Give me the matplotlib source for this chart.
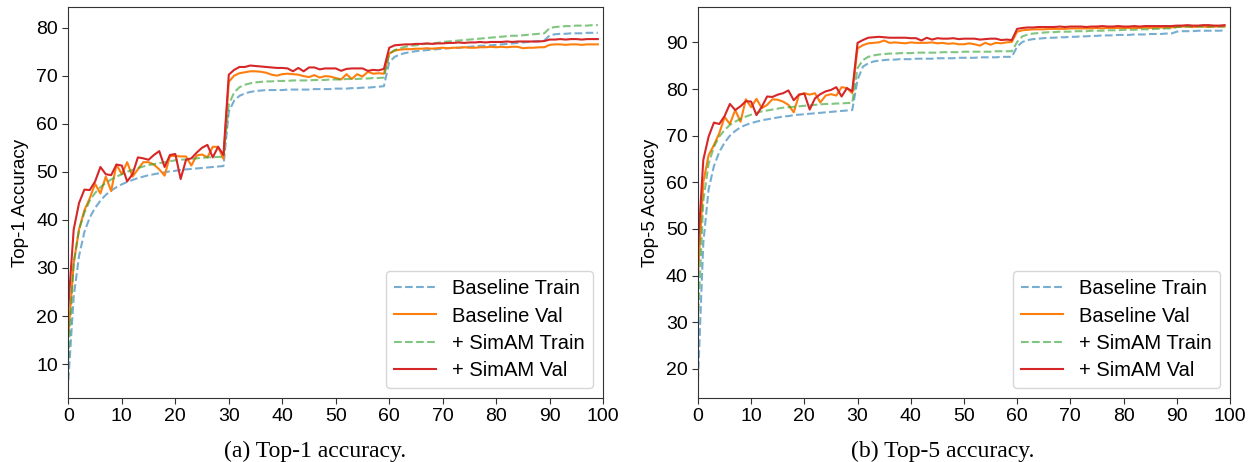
import matplotlib
matplotlib.use("Agg")
import matplotlib.pyplot as plt

plt.rcParams['font.family'] = ['Liberation Sans', 'DejaVu Sans']

epochs = list(range(100))

# top-1 accuracy per epoch (lr drops at 30 / 60 / 90)
top1_base_train = [
    6.7, 24.0, 32.5, 37.5, 40.5, 42.5, 44.0, 45.2, 46.1, 46.8, 47.4, 47.9, 48.3, 48.7, 49.0,
    49.3, 49.5, 49.7, 49.9, 50.1, 50.2, 50.4, 50.5, 50.6, 50.7, 50.8, 50.9, 51.0, 51.1, 51.2,
    62.5, 64.8, 65.8, 66.3, 66.6, 66.8, 66.9, 67.0, 67.0, 67.0, 67.0, 67.1, 67.1, 67.1, 67.1,
    67.1, 67.2, 67.2, 67.2, 67.2, 67.3, 67.3, 67.3, 67.4, 67.4, 67.5, 67.5, 67.6, 67.7, 67.8,
    72.8, 73.9, 74.4, 74.7, 74.9, 75.1, 75.2, 75.3, 75.4, 75.5, 75.6, 75.7, 75.8, 75.8, 75.9,
    76.0, 76.1, 76.2, 76.2, 76.3, 76.4, 76.5, 76.6, 76.7, 76.8, 76.9, 77.0, 77.1, 77.2, 77.3,
    78.4, 78.6, 78.7, 78.7, 78.8, 78.8, 78.8, 78.9, 78.9, 78.9]
top1_base_val = [
    16.0, 31.0, 38.0, 42.0, 44.5, 47.5, 45.5, 49.0, 46.0, 51.5, 49.5, 52.0, 49.0, 50.5, 52.0,
    52.0, 51.5, 50.5, 49.2, 53.3, 53.3, 53.2, 53.2, 51.3, 53.4, 53.6, 53.0, 55.2, 55.2, 52.7,
    68.7, 70.0, 70.5, 70.7, 70.9, 70.9, 70.8, 70.6, 70.2, 70.0, 70.3, 70.4, 70.3, 70.2, 69.9,
    69.7, 70.1, 69.6, 69.9, 69.8, 69.5, 69.2, 70.3, 69.3, 70.3, 69.8, 70.8, 70.4, 70.5, 70.4,
    74.6, 75.2, 75.4, 75.5, 75.5, 75.6, 75.6, 75.7, 75.6, 75.7, 75.8, 75.7, 75.8, 75.8, 75.9,
    75.8, 75.8, 75.9, 75.9, 76.0, 75.9, 76.0, 75.9, 76.0, 76.0, 75.7, 75.8, 75.8, 75.9, 75.9,
    76.4, 76.5, 76.5, 76.4, 76.5, 76.5, 76.4, 76.5, 76.5, 76.5]
top1_simam_train = [
    11.0, 31.0, 38.0, 41.5, 44.0, 45.6, 46.8, 47.7, 48.4, 49.0, 49.5, 50.0, 50.4, 50.8, 51.1,
    51.4, 51.6, 51.8, 52.0, 52.2, 52.4, 52.5, 52.6, 52.7, 52.8, 52.9, 53.0, 53.0, 53.1, 53.1,
    64.0, 66.5, 67.6, 68.1, 68.4, 68.6, 68.7, 68.8, 68.8, 68.9, 68.9, 68.9, 69.0, 69.0, 69.0,
    69.0, 69.1, 69.1, 69.1, 69.2, 69.2, 69.2, 69.3, 69.3, 69.3, 69.4, 69.4, 69.5, 69.5, 69.6,
    74.5, 75.3, 75.7, 76.0, 76.2, 76.3, 76.5, 76.6, 76.7, 76.8, 77.0, 77.1, 77.2, 77.3, 77.4,
    77.5, 77.6, 77.7, 77.8, 77.9, 78.0, 78.1, 78.2, 78.3, 78.3, 78.4, 78.5, 78.6, 78.7, 78.8,
    79.9, 80.1, 80.2, 80.3, 80.3, 80.4, 80.4, 80.4, 80.5, 80.5]
top1_simam_val = [
    22.0, 38.0, 43.5, 46.3, 46.2, 48.0, 51.0, 49.5, 49.3, 51.5, 51.3, 48.0, 49.5, 53.0, 52.8,
    52.5, 53.5, 54.3, 51.0, 53.5, 53.7, 48.5, 52.5, 52.8, 54.0, 55.0, 55.6, 53.0, 55.2, 53.5,
    70.2, 71.2, 71.8, 71.8, 72.1, 72.0, 71.9, 71.8, 71.7, 71.6, 71.6, 71.5, 70.9, 71.6, 70.9,
    71.7, 71.7, 71.3, 71.5, 71.5, 71.5, 71.0, 71.4, 71.5, 71.5, 71.5, 71.0, 71.2, 71.1, 71.4,
    75.8, 76.3, 76.4, 76.5, 76.5, 76.6, 76.6, 76.7, 76.6, 76.7, 76.7, 76.8, 76.8, 76.9, 76.8,
    76.9, 76.9, 77.0, 76.9, 77.0, 77.0, 77.0, 77.1, 77.0, 77.1, 77.1, 77.1, 77.1, 77.1, 77.2,
    77.5, 77.5, 77.6, 77.5, 77.6, 77.6, 77.5, 77.6, 77.6, 77.6]

# top-5 accuracy per epoch
top5_base_train = [
    17.6, 47.0, 58.5, 63.5, 66.5, 68.5, 70.0, 71.0, 71.8, 72.3, 72.7, 73.0, 73.3, 73.5, 73.7,
    73.9, 74.1, 74.2, 74.4, 74.5, 74.6, 74.7, 74.8, 74.9, 75.0, 75.1, 75.2, 75.3, 75.4, 75.5,
    82.0, 84.8, 85.5, 85.9, 86.1, 86.2, 86.3, 86.3, 86.4, 86.4, 86.4, 86.5, 86.5, 86.5, 86.5,
    86.6, 86.6, 86.6, 86.6, 86.7, 86.7, 86.7, 86.7, 86.8, 86.8, 86.8, 86.8, 86.9, 86.9, 86.9,
    89.1, 90.1, 90.5, 90.7, 90.8, 90.9, 91.0, 91.0, 91.1, 91.1, 91.2, 91.2, 91.3, 91.3, 91.4,
    91.4, 91.5, 91.5, 91.5, 91.6, 91.6, 91.6, 91.7, 91.7, 91.7, 91.8, 91.8, 91.8, 91.9, 91.9,
    92.3, 92.4, 92.4, 92.4, 92.5, 92.5, 92.5, 92.5, 92.5, 92.6]
top5_base_val = [
    40.0, 60.0, 65.8, 68.0, 70.5, 74.0, 72.5, 75.5, 73.0, 77.8, 76.1, 77.9, 75.9, 76.6, 77.8,
    77.7, 77.3, 76.6, 75.0, 78.8, 79.1, 78.8, 79.1, 77.1, 78.6, 78.9, 78.6, 80.4, 80.2, 79.1,
    88.7, 89.4, 89.8, 89.9, 90.0, 90.4, 89.9, 90.0, 89.9, 89.8, 90.0, 89.9, 89.9, 89.9, 90.0,
    89.8, 89.9, 89.7, 89.8, 89.6, 89.6, 89.8, 89.6, 89.3, 89.9, 89.5, 89.9, 89.8, 90.0, 90.1,
    92.3, 92.6, 92.7, 92.8, 92.8, 92.8, 92.9, 92.9, 92.9, 92.9, 93.0, 93.0, 93.0, 93.0, 93.0,
    93.1, 93.0, 93.1, 93.1, 93.1, 93.1, 93.1, 93.1, 93.1, 93.2, 93.1, 93.2, 93.2, 93.2, 93.2,
    93.3, 93.4, 93.4, 93.3, 93.4, 93.4, 93.3, 93.4, 93.4, 93.4]
top5_simam_train = [
    30.0, 56.0, 64.0, 67.6, 69.8, 71.2, 72.3, 73.0, 73.6, 74.1, 74.5, 74.9, 75.2, 75.4, 75.6,
    75.8, 76.0, 76.1, 76.2, 76.3, 76.4, 76.5, 76.6, 76.7, 76.8, 76.8, 76.9, 76.9, 77.0, 77.0,
    84.5, 86.2, 86.9, 87.2, 87.4, 87.5, 87.6, 87.6, 87.7, 87.7, 87.7, 87.8, 87.8, 87.8, 87.8,
    87.8, 87.9, 87.9, 87.9, 87.9, 88.0, 88.0, 88.0, 88.0, 88.0, 88.0, 88.1, 88.1, 88.1, 88.1,
    90.1, 91.3, 91.7, 91.9, 92.0, 92.1, 92.2, 92.2, 92.3, 92.3, 92.3, 92.4, 92.4, 92.4, 92.5,
    92.5, 92.5, 92.6, 92.6, 92.6, 92.7, 92.7, 92.7, 92.8, 92.8, 92.8, 92.9, 92.9, 93.0, 93.0,
    93.3, 93.3, 93.4, 93.4, 93.4, 93.4, 93.4, 93.4, 93.4, 93.4]
top5_simam_val = [
    46.0, 64.8, 69.8, 72.8, 72.5, 74.2, 76.8, 75.5, 76.3, 77.4, 77.3, 74.4, 76.2, 78.4, 78.3,
    78.8, 79.1, 79.7, 77.6, 78.8, 79.0, 75.6, 78.0, 78.9, 79.5, 79.8, 80.4, 78.4, 80.2, 79.5,
    89.9, 90.5, 91.0, 91.1, 91.2, 91.1, 91.0, 91.0, 91.0, 91.0, 90.9, 90.9, 90.4, 91.0, 90.6,
    90.9, 90.8, 90.8, 90.9, 90.7, 90.8, 90.8, 90.8, 90.6, 90.7, 90.8, 90.8, 90.5, 90.6, 90.5,
    92.9, 93.1, 93.2, 93.2, 93.3, 93.3, 93.3, 93.3, 93.4, 93.3, 93.4, 93.4, 93.4, 93.3, 93.4,
    93.4, 93.5, 93.4, 93.4, 93.5, 93.4, 93.4, 93.5, 93.4, 93.5, 93.5, 93.5, 93.5, 93.5, 93.5,
    93.6, 93.6, 93.7, 93.6, 93.6, 93.7, 93.7, 93.6, 93.6, 93.7]

labels = ['Baseline Train', 'Baseline Val', '+ SimAM Train', '+ SimAM Val']
colors = ['#1f77b4', '#ff7f0e', '#2ca02c', '#d62728']
styles = ['--', '-', '--', '-']
alphas = [0.6, 1.0, 0.6, 1.0]

panels = [
    ('Top-1 Accuracy', '(a) Top-1 accuracy.',
     [top1_base_train, top1_base_val, top1_simam_train, top1_simam_val]),
    ('Top-5 Accuracy', '(b) Top-5 accuracy.',
     [top5_base_train, top5_base_val, top5_simam_train, top5_simam_val]),
]

fig = plt.figure(figsize=(12.54, 4.62), dpi=100)
rects = [[0.0545, 0.139, 0.4265, 0.845], [0.5566, 0.139, 0.4242, 0.845]]

for rect, (ylab, caption, series) in zip(rects, panels):
    ax = fig.add_axes(rect)
    for ys, lab, c, ls, a in zip(series, labels, colors, styles, alphas):
        ax.plot(epochs, ys, ls, color=c, alpha=a, lw=1.5, label=lab)
    ax.set_xlim(0, 100)
    ax.set_xticks(range(0, 101, 10))
    ax.set_ylabel(ylab, fontsize=13.5, labelpad=5)
    ax.tick_params(labelsize=14, length=4, color='#333333')
    for sp in ax.spines.values():
        sp.set_color('#333333')
    ax.legend(loc='lower right', fontsize=14.5, handlelength=2.1, handletextpad=0.8,
              labelspacing=0.4)
    cx = rect[0] + rect[2] / 2 - 0.0166
    fig.text(cx, 0.024, caption, ha='center', va='center', fontsize=17,
             family=['Liberation Serif', 'DejaVu Serif'])

fig.savefig('out.png', dpi=100)
